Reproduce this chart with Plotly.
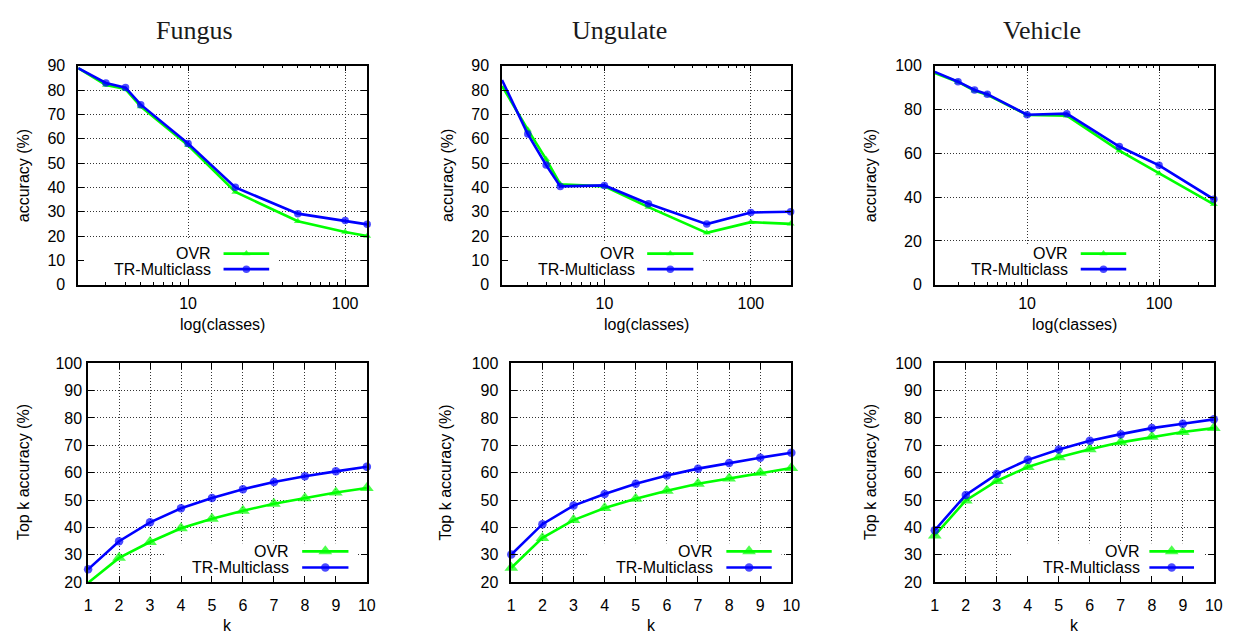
import math
import plotly.graph_objects as go

# ---------------- data ----------------
fungus_classes = [2, 3, 4, 5, 10, 20, 50, 100, 138]
fungus_ovr = [89.0, 82.1, 80.4, 73.2, 57.3, 38.1, 26.1, 21.7, 20.0]
fungus_tr = [89.0, 82.9, 81.0, 74.0, 58.0, 40.0, 29.2, 26.4, 24.8]

ungulate_classes = [2, 3, 4, 5, 10, 20, 50, 100, 187]
ungulate_ovr = [81.7, 63.7, 51.6, 41.3, 40.4, 31.9, 21.3, 25.7, 25.0]
ungulate_tr = [84.1, 61.9, 49.2, 40.4, 40.8, 33.3, 24.9, 29.7, 30.0]

vehicle_classes = [2, 3, 4, 5, 10, 20, 50, 100, 260]
vehicle_ovr = [96.7, 92.6, 88.6, 86.7, 77.5, 77.2, 61.2, 50.8, 36.7]
vehicle_tr = [97.2, 92.7, 88.9, 87.0, 77.6, 78.1, 63.1, 54.5, 39.0]

k_values = [1, 2, 3, 4, 5, 6, 7, 8, 9, 10]
fungus_topk_ovr = [19.8, 28.9, 34.7, 39.7, 43.2, 46.1, 48.7, 50.7, 52.8, 54.4]
fungus_topk_tr = [24.7, 35.0, 41.9, 47.0, 50.8, 54.0, 56.6, 58.7, 60.5, 62.2]
ungulate_topk_ovr = [25.3, 36.2, 42.7, 47.1, 50.5, 53.4, 56.0, 57.9, 60.0, 61.7]
ungulate_topk_tr = [30.1, 41.2, 48.0, 52.2, 56.0, 59.0, 61.5, 63.6, 65.5, 67.3]
vehicle_topk_ovr = [37.1, 49.9, 57.0, 62.1, 65.7, 68.6, 71.1, 73.1, 74.9, 76.3]
vehicle_topk_tr = [39.0, 51.9, 59.5, 64.7, 68.5, 71.7, 74.1, 76.3, 77.9, 79.5]

titles = ["Fungus", "Ungulate", "Vehicle"]
series_names = ["OVR", "TR-Multiclass"]
top_xlabel = "log(classes)"
top_ylabel = "accuracy (%)"
bottom_xlabel = "k"
bottom_ylabel = "Top k accuracy (%)"

# ---------------- style ----------------
W, H = 1236, 636
GREEN = "#00ff00"
BLUE = "#0000ff"
SANS = "Liberation Sans"
SERIF = "Liberation Serif"
FS = 16
LW = 2.6


def px(x):
    return x / W


def py(y):
    return 1 - y / H


panels = [
    # top row
    dict(x=fungus_classes, ovr=fungus_ovr, tr=fungus_tr, log=True, yr=[0, 90], dy=10,
         xd=(75, 367), yd=(59.3, 284.3), tso=8,
         leg=dict(tx=0.466, s0=0.503, s1=0.661, r1=0.142, r2=0.071, box=(0.0, 0.69, 0.205))),
    dict(x=ungulate_classes, ovr=ungulate_ovr, tr=ungulate_tr, log=True, yr=[0, 90], dy=10,
         xd=(503.3, 795), yd=(59.3, 284.3), tso=8,
         leg=dict(tx=0.469, s0=0.503, s1=0.663, r1=0.142, r2=0.071, box=(0.0, 0.697, 0.2))),
    dict(x=vehicle_classes, ovr=vehicle_ovr, tr=vehicle_tr, log=True, yr=[0, 100], dy=20,
         xd=(940.7, 1222.7), yd=(59.3, 284.3), tso=8,
         leg=dict(tx=0.484, s0=0.523, s1=0.686, r1=0.142, r2=0.071, box=(0.0, 0.717, 0.18))),
    # bottom row
    dict(x=k_values, ovr=fungus_topk_ovr, tr=fungus_topk_tr, log=False, yr=[20, 100], dy=10,
         xd=(85, 366.7), yd=(365, 590), tso=1,
         leg=dict(tx=0.728, s0=0.768, s1=0.934, r1=0.141, r2=0.067, box=(0.277, 0.965, 0.178))),
    dict(x=k_values, ovr=ungulate_topk_ovr, tr=ungulate_topk_tr, log=False, yr=[20, 100], dy=10,
         xd=(512.7, 795.7), yd=(365, 590), tso=8,
         leg=dict(tx=0.727, s0=0.768, s1=0.930, r1=0.141, r2=0.067, box=(0.277, 0.965, 0.178))),
    dict(x=k_values, ovr=vehicle_topk_ovr, tr=vehicle_topk_tr, log=False, yr=[20, 100], dy=10,
         xd=(940.7, 1222.7), yd=(365, 590), tso=8,
         leg=dict(tx=0.742, s0=0.769, s1=0.929, r1=0.141, r2=0.067, box=(0.277, 0.965, 0.178))),
]

fig = go.Figure()
layout = dict(
    width=W, height=H, margin=dict(l=0, r=0, t=0, b=0),
    paper_bgcolor="white", plot_bgcolor="white", showlegend=False,
)
annotations = []

log_minor = [v * m for m in (1, 10, 100) for v in range(2, 10)]

for i, p in enumerate(panels):
    n = i + 1
    sfx = "" if n == 1 else str(n)
    xa, ya = "x" + sfx, "y" + sfx
    top = p["log"]
    tri_size = 7 if top else 12
    circ_size = 7.5 if top else 8.5
    ymin, ymax = p["yr"]

    if top:
        xlo, xhi = math.log10(p["x"][0]), math.log10(p["x"][-1])

        def fx(f, xlo=xlo, xhi=xhi):
            return 10 ** (xlo + f * (xhi - xlo))
    else:
        xlo, xhi = 1, 10

        def fx(f, xlo=xlo, xhi=xhi):
            return xlo + f * (xhi - xlo)

    def fy(f, ymin=ymin, ymax=ymax):
        return ymin + f * (ymax - ymin)

    # key background (covers the grid like gnuplot's key)
    lg = p["leg"]
    bx0, bx1, btop = lg["box"]
    fig.add_trace(go.Scatter(
        x=[fx(bx0), fx(bx1), fx(bx1), fx(bx0), fx(bx0)],
        y=[fy(0), fy(0), fy(btop), fy(btop), fy(0)],
        xaxis=xa, yaxis=ya, mode="lines", fill="toself", fillcolor="white",
        line=dict(width=0, color="white"), hoverinfo="skip",
    ))

    ovr_sizes = [tri_size if v >= ymin else 0 for v in p["ovr"]]
    tr_sizes = [circ_size if v >= ymin else 0 for v in p["tr"]]

    fig.add_trace(go.Scatter(
        x=p["x"], y=p["ovr"], xaxis=xa, yaxis=ya, mode="lines+markers",
        name=series_names[0], cliponaxis=False,
        line=dict(color=GREEN, width=LW),
        marker=dict(symbol="triangle-up", size=ovr_sizes, color=GREEN, line=dict(width=0)),
    ))
    fig.add_trace(go.Scatter(
        x=p["x"], y=p["tr"], xaxis=xa, yaxis=ya, mode="lines+markers",
        name=series_names[1], cliponaxis=False,
        line=dict(color=BLUE, width=LW),
        marker=dict(symbol="circle", size=tr_sizes, color=BLUE, line=dict(width=0)),
    ))

    # key samples
    xm = (lg["s0"] + lg["s1"]) / 2
    for row, color, name, sym, sz in (
        (lg["r1"], GREEN, series_names[0], "triangle-up", tri_size),
        (lg["r2"], BLUE, series_names[1], "circle", circ_size),
    ):
        fig.add_trace(go.Scatter(
            x=[fx(lg["s0"]), fx(xm), fx(lg["s1"])], y=[fy(row)] * 3,
            xaxis=xa, yaxis=ya, mode="lines+markers", cliponaxis=False,
            line=dict(color=color, width=LW), hoverinfo="skip",
            marker=dict(symbol=sym, size=[0, sz, 0], color=color, line=dict(width=0)),
        ))
        annotations.append(dict(xref=xa + " domain", yref=ya + " domain", x=lg["tx"], y=row,
                                xanchor="right", yanchor="middle", text=name, showarrow=False,
                                font=dict(family=SANS, size=FS, color="black")))

    common = dict(
        showline=True, linecolor="black", linewidth=1.5, mirror="ticks",
        ticks="inside", ticklen=6, tickwidth=1, tickcolor="black",
        showgrid=True, gridcolor="#333333", griddash="1px,2px", gridwidth=1,
        zeroline=False, tickfont=dict(family=SANS, size=FS, color="black"),
        layer="above traces",
    )
    xd = (px(p["xd"][0]), px(p["xd"][1]))
    yd = (py(p["yd"][1]), py(p["yd"][0]))
    if top:
        xaxis = dict(common, type="log", domain=xd, anchor=ya,
                     range=[xlo, xhi],
                     tickmode="array", tickvals=[10, 100], ticktext=["10", "100"],
                     ticklabelstandoff=3,
                     minor=dict(tickmode="array", tickvals=log_minor, ticks="inside",
                                ticklen=3, tickcolor="black", showgrid=False))
    else:
        xaxis = dict(common, domain=xd, anchor=ya, range=[1, 10],
                     tickmode="linear", tick0=1, dtick=1, ticklabelstandoff=8)
    yaxis = dict(common, domain=yd, anchor=xa, range=p["yr"], tickmode="linear",
                 tick0=ymin, dtick=p["dy"], ticklabelstandoff=p["tso"])
    layout["xaxis" + sfx] = xaxis
    layout["yaxis" + sfx] = yaxis

# titles
for t, cx in zip(titles, (193, 621.7, 1049)):
    annotations.append(dict(xref="paper", yref="paper", x=px(cx), y=py(23), text=t,
                            showarrow=False, xanchor="center", yanchor="middle",
                            font=dict(family=SERIF, size=26, color="#1a1a1a")))

# axis titles
for cx in (221, 649, 1081.7):
    annotations.append(dict(xref="paper", yref="paper", x=px(cx), y=py(325), text=top_xlabel,
                            showarrow=False, xanchor="center", yanchor="middle",
                            font=dict(family=SANS, size=FS, color="black")))
for cx in (225.8, 654, 1081.7):
    annotations.append(dict(xref="paper", yref="paper", x=px(cx), y=py(624), text=bottom_xlabel,
                            showarrow=False, xanchor="center", yanchor="top",
                            font=dict(family=SANS, size=FS, color="black")))
for cx in (20, 448.3, 876):
    annotations.append(dict(xref="paper", yref="paper", x=px(cx), y=py(172), text=top_ylabel,
                            showarrow=False, xanchor="center", yanchor="middle", textangle=-90,
                            font=dict(family=SANS, size=FS, color="black")))
for cx in (19, 446, 875):
    annotations.append(dict(xref="paper", yref="paper", x=px(cx), y=py(477), text=bottom_ylabel,
                            showarrow=False, xanchor="center", yanchor="middle", textangle=-90,
                            font=dict(family=SANS, size=FS, color="black")))

layout["annotations"] = annotations
fig.update_layout(**layout)
fig.write_html("out.html", config={"displayModeBar": False},
               post_script="document.body.style.margin='0';document.body.style.overflow='hidden';")
